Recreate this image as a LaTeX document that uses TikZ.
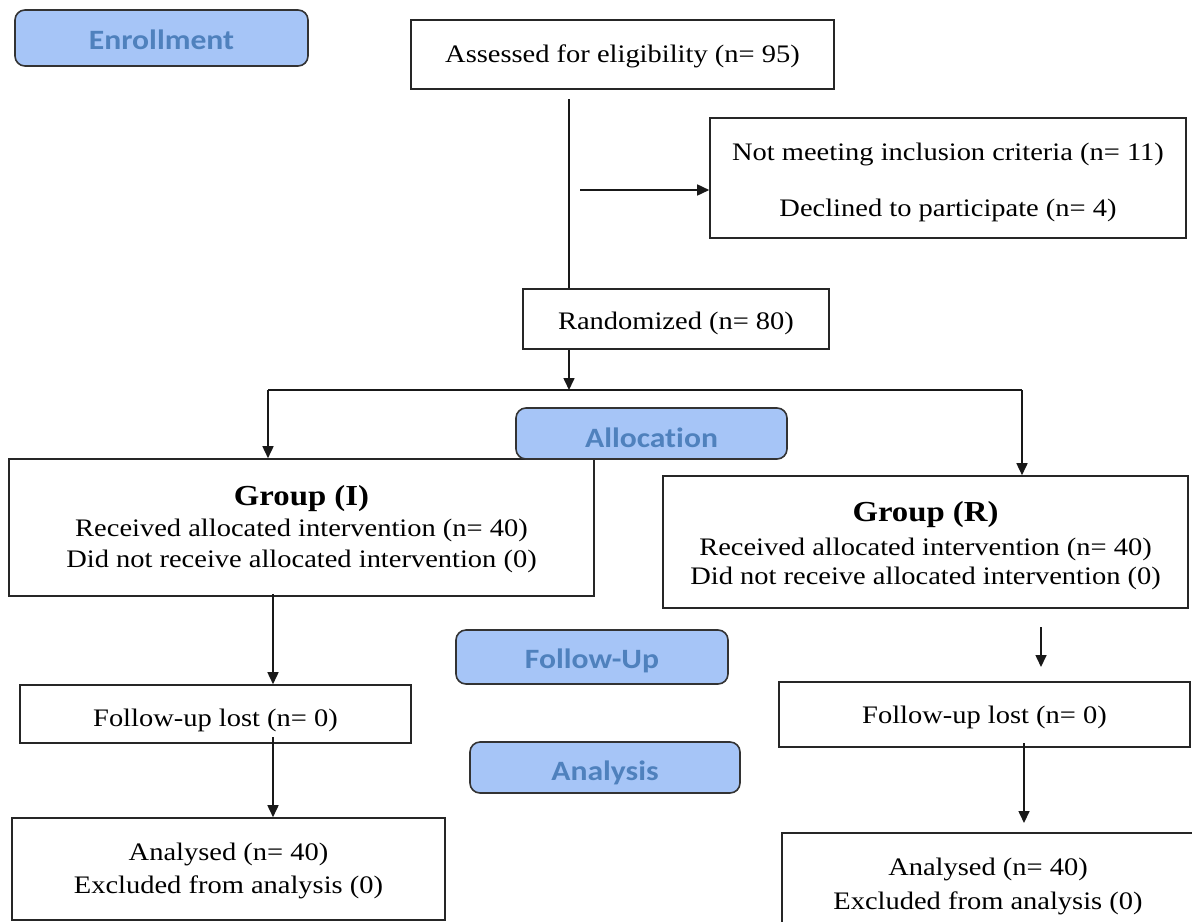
\documentclass[tikz,border=0pt]{standalone}
\usepackage{fontspec}
\setmainfont{Liberation Serif}[FakeStretch=1.13]
\newfontfamily\labfont{Carlito}[FakeStretch=1.13, Ligatures=NoCommon]
\usetikzlibrary{arrows.meta}
\definecolor{labfill}{HTML}{A6C5F7}
\definecolor{labtext}{HTML}{4F81BD}
\definecolor{labdraw}{HTML}{333333}
\newcommand{\dn}[2]{\raisebox{-#1}[\height][\depth]{#2}}
\tikzset{
  box/.style={draw=black!85, line width=0.8pt, inner sep=0pt, align=center,
    font=\fontsize{12.6}{14.5}\selectfont},
  lab/.style={draw=labdraw, fill=labfill, rounded corners=5pt, line width=0.8pt,
    inner sep=0pt, font=\labfont\bfseries\fontsize{14}{16}\selectfont, text=labtext},
  conn/.style={line width=0.8pt, draw=black!90},
  arr/.style={conn, -{Triangle[length=6pt,width=5.5pt]}},
}
\begin{document}
\begin{tikzpicture}[x=0.5pt,y=-0.5pt]
\useasboundingbox (0,0) rectangle (1192,921);

% stage labels
\node[lab, minimum width=146.5pt, minimum height=28pt] (enroll) at (161.5,38) {\dn{1pt}{Enrollment}};

% boxes
\node[box, minimum width=211.5pt, minimum height=34.5pt] (assess) at (622.5,54.5) {\dn{1pt}{Assessed for eligibility (n= 95)}};
\node[box, minimum width=238pt, minimum height=60pt] (excl) at (948,178)
  {\rule{0pt}{13pt}Not meeting inclusion criteria (n= 11)\\[13.5pt]Declined to participate (n= 4)};
\node[box, minimum width=153pt, minimum height=30pt] (rand) at (676,319) {\dn{2pt}{Randomized (n= 80)}};

\node[box, minimum width=292.5pt, minimum height=68.5pt, font=\fontsize{12.6}{15.5}\selectfont] (gI) at (301.5,527.5)
  {{\fontsize{14.5}{15.5}\selectfont\bfseries\rule{0pt}{11.5pt}Group (I)}\\Received allocated intervention (n= 40)\\Did not receive allocated intervention (0)};
\node[box, minimum width=262.5pt, minimum height=66pt, font=\fontsize{12.6}{14.5}\selectfont] (gR) at (925.5,542)
  {{\fontsize{14.5}{15.5}\selectfont\bfseries\rule{0pt}{14pt}Group (R)}\\[2.5pt]Received allocated intervention (n= 40)\\Did not receive allocated intervention (0)};

\node[lab, minimum width=135.5pt, minimum height=25.5pt] (alloc) at (651.5,433.5) {\dn{2pt}{Allocation}};

\node[lab, minimum width=136pt, minimum height=27pt] (fulab) at (592,657) {\dn{2pt}{Follow-Up}};
\node[lab, minimum width=135pt, minimum height=25.5pt] (anlab) at (605,767.5) {\dn{2.5pt}{Analysis}};

\node[box, minimum width=195.5pt, minimum height=29pt] (fuL) at (215.5,714) {\dn{3pt}{Follow-up lost (n= 0)}};
\node[box, minimum width=205.5pt, minimum height=32.5pt] (fuR) at (984.5,714.5) {\dn{1.5pt}{Follow-up lost (n= 0)}};

\node[box, minimum width=216.5pt, minimum height=51pt, font=\fontsize{12.6}{16.5}\selectfont] (anL) at (228.5,869)
  {\rule{0pt}{11pt}Analysed (n= 40)\\Excluded from analysis (0)};
\node[box, minimum width=206pt, minimum height=50pt, font=\fontsize{12.6}{17}\selectfont] (anR) at (988,883)
  {\rule{0pt}{12pt}Analysed (n= 40)\\Excluded from analysis (0)};

% helper coordinates
\coordinate (trunk) at (569,99);
\coordinate (exclStart) at (580,190);
\coordinate (split) at (569,390);
\coordinate (lsplit) at (268,390);
\coordinate (rsplit) at (1022,390);
\coordinate (lx) at (273,0);
\coordinate (fuLout) at (273,737);
\coordinate (rTop) at (1041,627);
\coordinate (rEnd) at (1041,667);
\coordinate (rOut) at (1024,743);
\coordinate (rIn) at (1024,823);

% connectors
\draw[conn] (trunk) -- (trunk |- rand.north);
\draw[arr] (exclStart) -- (exclStart -| excl.west);
\draw[arr] (split |- rand.south) -- (split);
\draw[conn] (lsplit) -- (rsplit);
\draw[arr] (lsplit) -- (lsplit |- gI.north);
\draw[arr] (rsplit) -- (rsplit |- gR.north);
\draw[arr] ([yshift=1.5pt]lx |- gI.south) -- (lx |- fuL.north);
\draw[arr] (fuLout) -- (fuLout |- anL.north);
\draw[arr] (rTop) -- (rEnd);
\draw[arr] (rOut) -- (rIn);
\end{tikzpicture}
\end{document}
